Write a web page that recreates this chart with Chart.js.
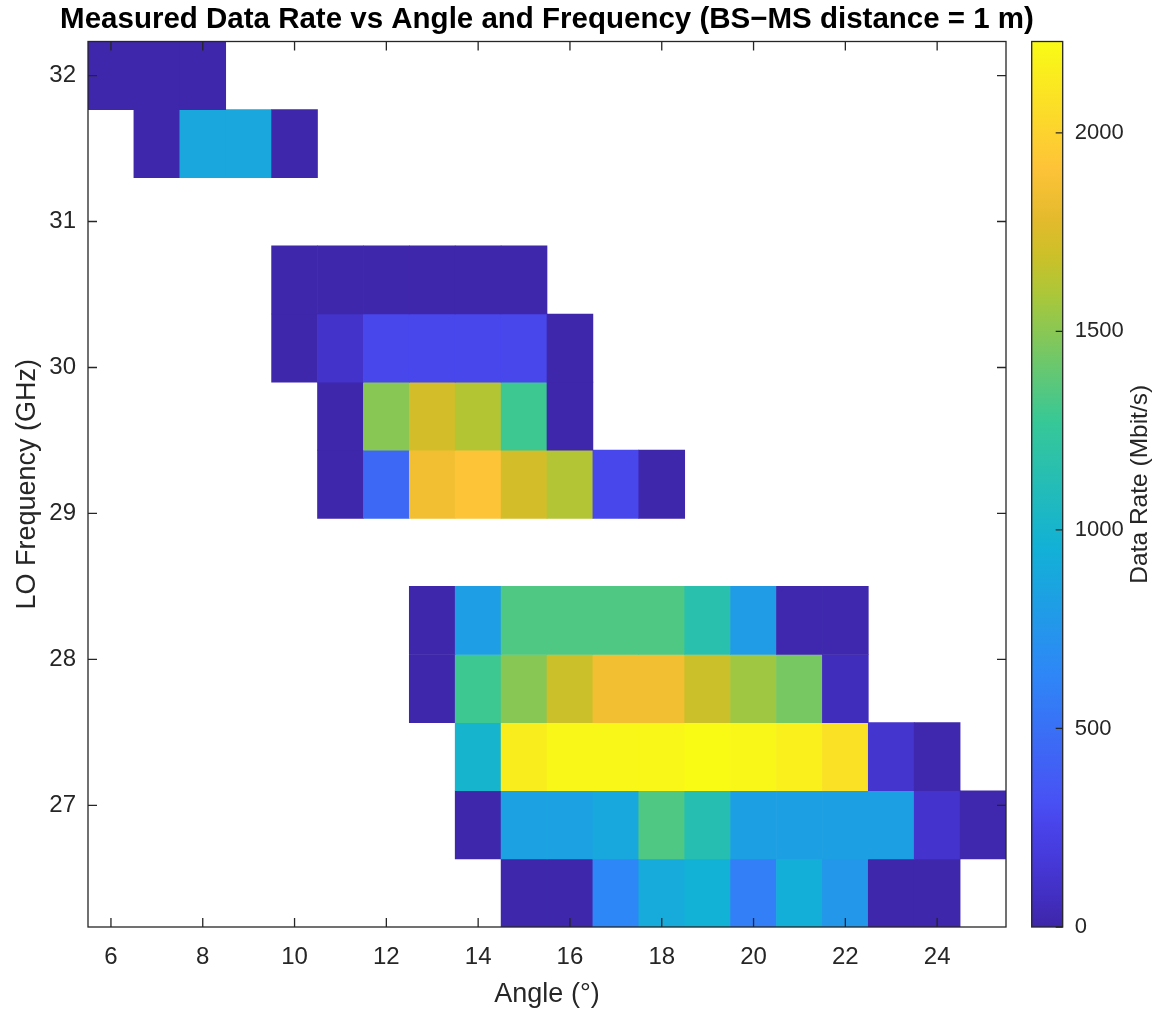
<!DOCTYPE html>
<html>
<head>
<meta charset="utf-8">
<script src="https://cdn.jsdelivr.net/npm/chart.js@4.4.0/dist/chart.umd.min.js"></script>
<style>
  html, body { margin: 0; padding: 0; background: #fff; }
  #wrap { position: relative; width: 1173px; height: 1017px; overflow: hidden; }
  #main { position: absolute; left: 0; top: 0; }
  #cbar { position: absolute; left: 1020px; top: 0; }
</style>
</head>
<body>
<div id="wrap">
  <canvas id="main" width="1094" height="1017"></canvas>
  <canvas id="cbar" width="153" height="1017"></canvas>
</div>
<script>
// axes
const angles = [6, 7, 8, 9, 10, 11, 12, 13, 14, 15, 16, 17, 18, 19, 20, 21, 22, 23, 24, 25]
const frequencies = [26.4, 26.8667, 27.3333, 27.8, 28.2667, 28.7333, 29.2, 29.6667, 30.1333, 30.6, 31.0667, 31.5333, 32]
const xTicks = [6, 8, 10, 12, 14, 16, 18, 20, 22, 24]
const yTicks = [27, 28, 29, 30, 31, 32]
const cbarTicks = [0, 500, 1000, 1500, 2000]

// measured data rate (Mbit/s), one row per LO frequency, one entry per angle; null = not measured
const _ = null
const rate26_40 = [_, _, _, _, _, _, _, _, _, 5, 5, 640, 910, 955, 590, 940, 760, 10, 10, _]
const rate26_87 = [_, _, _, _, _, _, _, _, 10, 840, 840, 890, 1340, 1140, 830, 830, 830, 830, 120, 15]
const rate27_33 = [_, _, _, _, _, _, _, _, 1000, 2150, 2210, 2210, 2210, 2230, 2210, 2165, 2083, 130, 15, _]
const rate27_80 = [_, _, _, _, _, _, _, 10, 1290, 1500, 1690, 1850, 1850, 1690, 1560, 1450, 60, _, _, _]
const rate28_27 = [_, _, _, _, _, _, _, 10, 815, 1340, 1340, 1340, 1340, 1160, 800, 15, 15, _, _, _]
const rate28_73 = [_, _, _, _, _, _, _, _, _, _, _, _, _, _, _, _, _, _, _, _]
const rate29_20 = [_, _, _, _, _, 10, 450, 1850, 1915, 1720, 1615, 270, 10, _, _, _, _, _, _, _]
const rate29_67 = [_, _, _, _, _, 10, 1500, 1720, 1620, 1290, 10, _, _, _, _, _, _, _, _, _]
const rate30_13 = [_, _, _, _, 10, 110, 270, 270, 270, 270, 10, _, _, _, _, _, _, _, _, _]
const rate30_60 = [_, _, _, _, 10, 10, 10, 10, 10, 10, _, _, _, _, _, _, _, _, _, _]
const rate31_07 = [_, _, _, _, _, _, _, _, _, _, _, _, _, _, _, _, _, _, _, _]
const rate31_53 = [_, 10, 880, 880, 10, _, _, _, _, _, _, _, _, _, _, _, _, _, _, _]
const rate32_00 = [10, 10, 10, _, _, _, _, _, _, _, _, _, _, _, _, _, _, _, _, _]
const rateRows = [rate26_40, rate26_87, rate27_33, rate27_80, rate28_27, rate28_73, rate29_20,
  rate29_67, rate30_13, rate30_60, rate31_07, rate31_53, rate32_00]

const cMin = 0
const cMax = 2230

// parula-like colormap
const parula = [
  [0.000, [62, 38, 168]],
  [0.035, [66, 47, 194]],
  [0.075, [70, 57, 217]],
  [0.114, [72, 67, 234]],
  [0.143, [72, 82, 244]],
  [0.286, [46, 135, 247]],
  [0.429, [18, 177, 214]],
  [0.571, [55, 200, 151]],
  [0.714, [171, 199, 57]],
  [0.760, [205, 192, 40]],
  [0.800, [228, 186, 45]],
  [0.857, [254, 195, 56]],
  [1.000, [249, 251, 21]]
]

const rgb = c => `rgb(${c.map(Math.round).join(',')})`

function colorFor (v) {
  const t = Math.min(1, Math.max(0, (v - cMin) / (cMax - cMin)))
  for (let i = 1; i < parula.length; i++) {
    const [t1, c1] = parula[i]
    const [t0, c0] = parula[i - 1]
    if (t <= t1) {
      const f = (t - t0) / (t1 - t0)
      return rgb(c0.map((c, k) => c + (c1[k] - c) * f))
    }
  }
  return rgb(parula[parula.length - 1][1])
}

const halfStep = (frequencies[1] - frequencies[0]) / 2
const cells = []
rateRows.forEach((row, r) => {
  row.forEach((v, c) => {
    if (v === null) return
    cells.push({ x: angles[c], y: [frequencies[r] - halfStep, frequencies[r] + halfStep], v })
  })
})

const family = "'Liberation Sans', Arial, Helvetica, sans-serif"
const axisColor = '#262626'
Chart.defaults.font.family = family
Chart.defaults.color = axisColor

// box with inward ticks on all sides, MATLAB style
const boxPlugin = {
  id: 'box',
  afterDatasetsDraw (chart, args, opts) {
    const { ctx, chartArea: a } = chart
    ctx.save()
    ctx.strokeStyle = axisColor
    ctx.lineWidth = 1.3
    ctx.strokeRect(a.left, a.top, a.right - a.left, a.bottom - a.top)
    ctx.beginPath()
    const x = chart.scales.x
    const y = chart.scales.y
    if (opts.xTicks && x) {
      x.ticks.forEach(t => {
        const px = x.getPixelForValue(t.value)
        ctx.moveTo(px, a.bottom)
        ctx.lineTo(px, a.bottom - opts.len)
        ctx.moveTo(px, a.top)
        ctx.lineTo(px, a.top + opts.len)
      })
    }
    y.ticks.forEach(t => {
      const py = y.getPixelForValue(t.value)
      if (opts.left) {
        ctx.moveTo(a.left, py)
        ctx.lineTo(a.left + opts.len, py)
      }
      ctx.moveTo(a.right, py)
      ctx.lineTo(a.right - opts.len, py)
    })
    ctx.stroke()
    ctx.restore()
  }
}

// title centred over the axes
const axesTitle = {
  id: 'axesTitle',
  afterDraw (chart, args, opts) {
    const { ctx, chartArea: a } = chart
    ctx.save()
    ctx.fillStyle = '#000'
    ctx.font = `bold 29.5px ${family}`
    ctx.textAlign = 'center'
    ctx.textBaseline = 'middle'
    ctx.fillText(opts.text, (a.left + a.right) / 2, 20)
    ctx.restore()
  }
}

new Chart(document.getElementById('main'), {
  type: 'bar',
  data: {
    datasets: [{
      data: cells,
      backgroundColor: cells.map(c => colorFor(c.v)),
      borderWidth: 0,
      barPercentage: 1,
      categoryPercentage: 1
    }]
  },
  options: {
    responsive: false,
    animation: false,
    layout: { padding: { left: 0, right: 88, top: 41.5, bottom: 0 } },
    scales: {
      x: {
        type: 'linear',
        offset: false,
        min: 5.5,
        max: 25.5,
        afterBuildTicks: s => { s.ticks = xTicks.map(value => ({ value })) },
        afterFit: s => { s.height = 90 },
        grid: { display: false, drawTicks: false },
        border: { display: false },
        ticks: { color: axisColor, font: { size: 24 }, padding: 16, maxRotation: 0 },
        title: { display: true, text: 'Angle (°)', color: axisColor, font: { size: 27 }, padding: { top: 0, bottom: 6 } }
      },
      y: {
        type: 'linear',
        min: frequencies[0] - halfStep,
        max: frequencies[frequencies.length - 1] + halfStep,
        afterBuildTicks: s => { s.ticks = yTicks.map(value => ({ value })) },
        afterFit: s => { s.width = 88 },
        grid: { display: false, drawTicks: false },
        border: { display: false },
        ticks: { color: axisColor, font: { size: 24 }, padding: 12 },
        title: { display: true, text: 'LO Frequency (GHz)', color: axisColor, font: { size: 27 }, padding: { top: 11, bottom: 0 } }
      }
    },
    plugins: {
      legend: { display: false },
      tooltip: { enabled: false },
      axesTitle: { text: 'Measured Data Rate vs Angle and Frequency (BS\u2212MS distance = 1 m)' },
      box: { xTicks: true, left: true, len: 9 }
    }
  },
  plugins: [boxPlugin, axesTitle]
})

// colorbar label, reading bottom to top
const cbarLabel = {
  id: 'cbarLabel',
  afterDraw (chart) {
    const { ctx, chartArea: a } = chart
    ctx.save()
    ctx.translate(120, (a.top + a.bottom) / 2)
    ctx.rotate(-Math.PI / 2)
    ctx.fillStyle = axisColor
    ctx.font = `24.5px ${family}`
    ctx.textAlign = 'center'
    ctx.textBaseline = 'middle'
    ctx.fillText('Data Rate (Mbit/s)', 0, 0)
    ctx.restore()
  }
}

new Chart(document.getElementById('cbar'), {
  type: 'bar',
  data: {
    labels: ['rate'],
    datasets: [{
      data: [[cMin, cMax]],
      backgroundColor (c) {
        const chart = c.chart
        if (!chart.chartArea) return null
        const y = chart.scales.y
        const g = chart.ctx.createLinearGradient(0, y.getPixelForValue(cMin), 0, y.getPixelForValue(cMax))
        parula.forEach(([t, col]) => g.addColorStop(t, rgb(col)))
        return g
      },
      borderWidth: 0,
      barPercentage: 1,
      categoryPercentage: 1
    }]
  },
  options: {
    responsive: false,
    animation: false,
    layout: { padding: { left: 11.7, right: 0, top: 41.5, bottom: 90 } },
    scales: {
      x: { display: false },
      y: {
        position: 'right',
        min: cMin,
        max: cMax,
        afterBuildTicks: s => { s.ticks = cbarTicks.map(value => ({ value })) },
        afterFit: s => { s.width = 110.3 },
        grid: { display: false, drawTicks: false },
        border: { display: false },
        ticks: { color: axisColor, font: { size: 22 }, padding: 12, callback: v => String(v) }
      }
    },
    plugins: {
      legend: { display: false },
      tooltip: { enabled: false },
      box: { xTicks: false, left: false, len: 7 }
    }
  },
  plugins: [boxPlugin, cbarLabel]
})
</script>
</body>
</html>
